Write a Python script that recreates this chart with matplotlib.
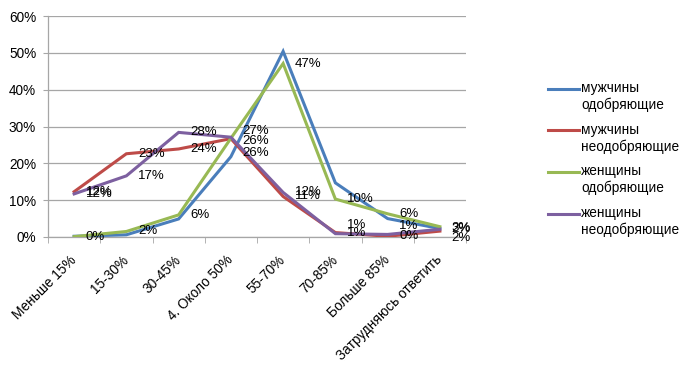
import numpy as np
import matplotlib

matplotlib.use("Agg")
import matplotlib.pyplot as plt  # noqa: E402
from matplotlib.lines import Line2D  # noqa: E402
from matplotlib.ticker import FuncFormatter  # noqa: E402

plt.rcParams["font.family"] = ["Liberation Sans", "DejaVu Sans"]

categories = ["Меньше 15%", "15-30%", "30-45%", "4. Около 50%", "55-70%",
              "70-85%", "Больше 85%", "Затрудняюсь ответить"]
series_names = ["мужчины\nодобряющие", "мужчины\nнеодобряющие",
                "женщины\nодобряющие", "женщины\nнеодобряющие"]

# line values, %
men_yes = [0.2, 0.6, 4.9, 21.8, 50.4, 14.7, 5.0, 2.3]
men_no = [12.3, 22.6, 23.9, 26.7, 11.0, 1.2, 0.2, 1.6]
women_yes = [0.1, 1.5, 6.0, 26.8, 47.1, 10.3, 6.3, 2.8]
women_no = [11.7, 16.6, 28.4, 27.1, 12.1, 0.9, 0.7, 2.1]

# printed data labels (blue series has none)
men_no_lbl = [12, 23, 24, 26, 11, 1, 0, 2]
women_yes_lbl = [0, 2, 6, 27, 47, 10, 6, 3]
women_no_lbl = [12, 17, 28, 26, 12, 1, 1, 2]

COLORS = ["#4A7EBB", "#BE4B48", "#98B954", "#7D60A0"]
GRID = "#a6a6a6"

# vertical nudges (points) where the original labels were shifted apart
NUDGE = {(1, 3): -10.0, (2, 3): 5.5, (3, 3): -3.0,
         (3, 5): 6.0, (3, 6): 6.0, (1, 7): -5.0, (2, 7): -1.0}


def main() -> None:
    fig = plt.figure(figsize=(7.0, 3.67), dpi=100)
    ax = fig.add_axes([48 / 700, 1 - 237 / 367, 418 / 700, 221 / 367])

    x = np.arange(len(categories)) + 0.5
    values = [men_yes, men_no, women_yes, women_no]
    for vals, col in zip(values, COLORS):
        ax.plot(x, vals, color=col, linewidth=2.2, solid_joinstyle="miter",
                zorder=3)

    labels = {1: men_no_lbl, 2: women_yes_lbl, 3: women_no_lbl}
    for si, lbls in labels.items():
        for ci, (xv, yv, lv) in enumerate(zip(x, values[si], lbls)):
            ax.annotate(f"{lv}%", (xv, yv), xytext=(8.5, NUDGE.get((si, ci), 0.0)),
                        textcoords="offset points", ha="left", va="center",
                        fontsize=9.5, color="black", zorder=4)

    ax.set_xlim(0, len(categories))
    ax.set_ylim(0, 60)
    ax.set_yticks(np.arange(0, 61, 10))
    ax.yaxis.set_major_formatter(FuncFormatter(lambda v, _: f"{v:.0f}%"))
    ax.yaxis.grid(True, color=GRID, linewidth=0.9)
    ax.set_axisbelow(True)

    ax.set_xticks(x)
    ax.set_xticklabels(categories, rotation=45, ha="right",
                       rotation_mode="anchor", va="center")
    ax.set_xticks(np.arange(0, len(categories) + 1), minor=True)
    ax.tick_params(axis="x", which="major", length=0, pad=15, labelsize=9.8)
    ax.tick_params(axis="x", which="minor", length=4, color=GRID,
                   direction="out")
    ax.tick_params(axis="y", length=3.5, color=GRID, pad=5, labelsize=9.8)

    for side in ("top", "right"):
        ax.spines[side].set_visible(False)
    for side in ("left", "bottom"):
        ax.spines[side].set_color(GRID)
        ax.spines[side].set_linewidth(0.9)

    # legend, handle level with the first text line
    for i, (name, col) in enumerate(zip(series_names, COLORS)):
        y = 1 - (88.5 + 41.7 * i) / 367
        fig.add_artist(Line2D([548 / 700, 579 / 700], [y, y], color=col,
                              linewidth=2.2, transform=fig.transFigure))
        fig.text(581 / 700, y + 7.5 / 367, name, ha="left", va="top",
                 fontsize=9.8, linespacing=1.22)

    fig.savefig("out.png", dpi=100)
    plt.close(fig)


if __name__ == "__main__":
    main()
